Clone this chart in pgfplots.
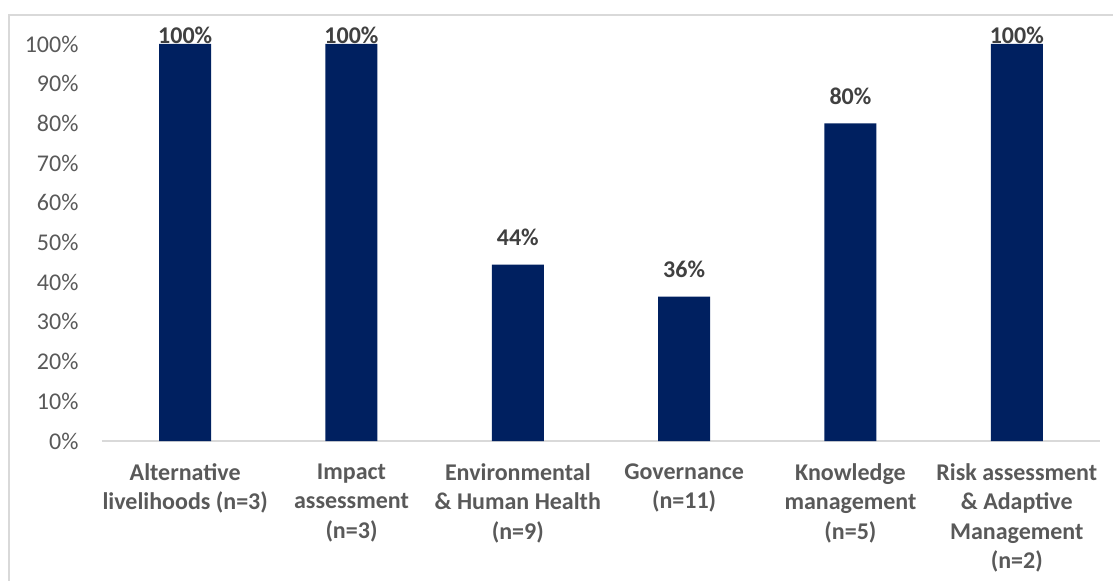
\documentclass[border=0pt]{standalone}
\usepackage{pgfplots}
\pgfplotsset{compat=1.18}
\usepackage{pgfplotstable}
\usepackage{fontspec}
\setmainfont{Carlito}
\definecolor{barblue}{HTML}{002060}
\definecolor{lbl}{HTML}{404040}
\definecolor{tck}{HTML}{595959}
\definecolor{ln}{HTML}{D9D9D9}
\pgfplotstableread{
x y shift
0 100 0
1 100 0
2 44.44 19
3 36.36 19
4 80 19
5 100 0
}\datatab
\begin{document}
\begin{tikzpicture}
\useasboundingbox (-102bp,-140bp) rectangle (1011bp,441bp);
\draw[ln, line width=2bp] (-93bp,-145bp) -- (-93bp,426bp) -- (1020bp,426bp);
\begin{axis}[
  at={(0,0)}, anchor=south west,
  scale only axis,
  width=998bp, height=397bp,
  xmin=-0.5, xmax=5.5,
  ymin=0, ymax=100,
  axis x line*=bottom,
  axis y line*=left,
  y axis line style={draw=none},
  x axis line style={draw=ln, line width=1.5bp},
  ytick={0,10,...,100},
  yticklabel={\pgfmathprintnumber{\tick}\%},
  xtick=data,
  xticklabels={{Alternative\\livelihoods (n=3)},{Impact\\assessment\\(n=3)},{Environmental\\\& Human Health\\(n=9)},{Governance\\(n=11)},{Knowledge\\management\\(n=5)},{Risk assessment\\\& Adaptive\\Management\\(n=2)}},
  major tick length=0pt,
  tick style={draw=none},
  /pgf/number format/assume math mode=true,
  every tick label/.append style={font=\fontsize{24bp}{29.5bp}\selectfont},
  yticklabel style={tck, anchor=east, xshift=-20bp},
  xticklabel style={tck, font=\fontsize{24bp}{29.5bp}\selectfont\bfseries, align=center, anchor=north, yshift=-19bp},
  clip=false,
]
\addplot[ybar, bar width=52bp, fill=barblue, draw=none,
  nodes near coords={\pgfmathprintnumber[fixed,precision=0]{\pgfplotspointmeta}\%},
  point meta=explicit,
  visualization depends on={\thisrow{shift}\as\myshift},
  every node near coord/.append style={anchor=base, yshift=\myshift, text=lbl, font=\fontsize{24bp}{29.5bp}\selectfont\bfseries, /pgf/number format/assume math mode=true},
] table[x=x, y=y, meta=y] {\datatab};
\end{axis}
\end{tikzpicture}
\end{document}
